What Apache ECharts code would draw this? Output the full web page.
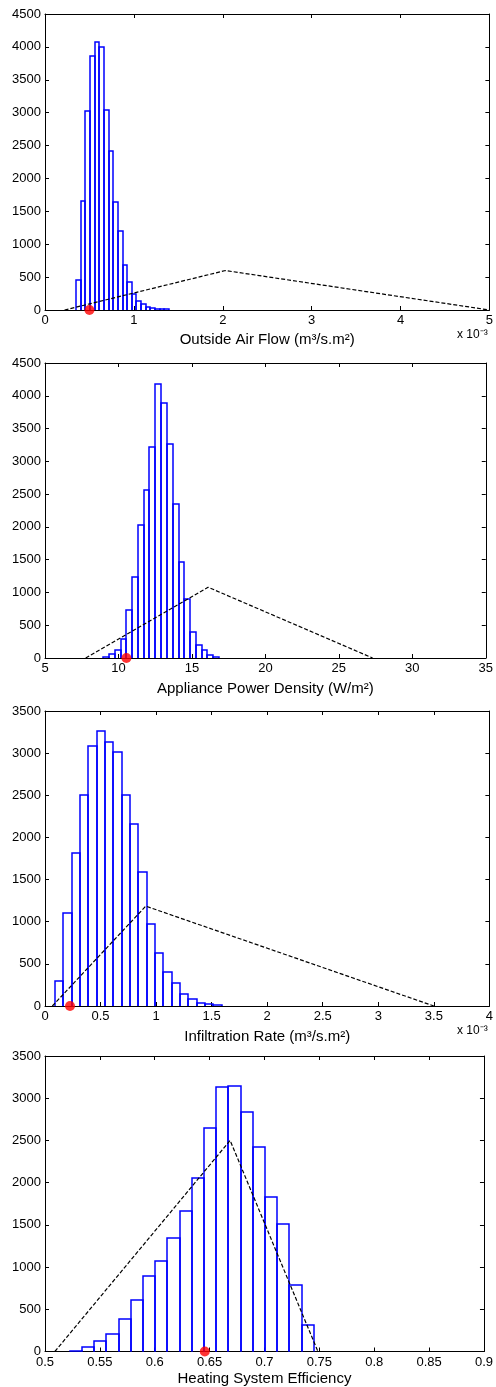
<!DOCTYPE html>
<html><head><meta charset="utf-8">
<script src="https://cdn.jsdelivr.net/npm/echarts@6/dist/echarts.min.js"></script>
<style>html,body{margin:0;padding:0;background:#fff}#c{width:496px;height:1387px}</style>
</head><body><div id="c"></div><script>
// ---- Panel 1: Outside Air Flow (x in units of 1e-3) ----
const oafEdges = [0.348,0.400,0.453,0.505,0.558,0.610,0.662,0.715,0.767,0.820,0.872,0.924,0.977,1.029,1.082,1.134,1.186,1.239,1.291,1.344,1.396];
const oafCounts = [460,1650,3030,3860,4080,4000,3040,2420,1640,1200,690,420,250,140,90,45,30,20,15,10];
const oafTriangle = [[0.22,0],[2.03,600],[5,0]];
const oafPoint = [[0.5,0]];

// ---- Panel 2: Appliance Power Density ----
const apdEdges = [8.95,9.35,9.74,10.14,10.53,10.93,11.32,11.72,12.11,12.51,12.90,13.30,13.69,14.09,14.48,14.88,15.27,15.67,16.06,16.46,16.85];
const apdCounts = [8,58,120,295,733,1230,2025,2570,3220,4175,3895,3262,2342,1460,900,400,198,128,42,18];
const apdTriangle = [[7.77,0],[16.1,1080],[27.3,0]];
const apdPoint = [[10.54,0]];

// ---- Panel 3: Infiltration Rate (x in units of 1e-3) ----
const infEdges = [0.09,0.165,0.24,0.315,0.39,0.465,0.54,0.615,0.69,0.765,0.84,0.915,0.99,1.065,1.14,1.215,1.29,1.365,1.44,1.515,1.59];
const infCounts = [298,1106,1815,2500,3088,3263,3135,3008,2500,2163,1594,968,632,400,268,137,79,33,23,15];
const infTriangle = [[0.066,0],[0.907,1185],[3.5,0]];
const infPoint = [[0.225,0]];

// ---- Panel 4: Heating System Efficiency ----
const hseEdges = [0.5225,0.5336,0.5447,0.5559,0.5670,0.5781,0.5892,0.6003,0.6115,0.6226,0.6337,0.6448,0.6559,0.6671,0.6782,0.6893,0.7004,0.7115,0.7227,0.7338,0.7449];
const hseCounts = [10,59,122,205,382,611,890,1076,1344,1663,2053,2648,3135,3140,2837,2419,1832,1505,788,315];
const hseTriangle = [[0.509,0],[0.6687,2500],[0.7487,0]];
const hsePoint = [[0.6456,0]];

const FONT = '"Liberation Sans", Arial, Helvetica, sans-serif';
const panels = [
  {edges:oafEdges, counts:oafCounts, tri:oafTriangle, pt:oafPoint, xMin:0, xMax:5, xInt:1, yMax:4500, name:'Outside Air Flow (m³/s.m²)', top:14, height:296, gap:30, sci:true},
  {edges:apdEdges, counts:apdCounts, tri:apdTriangle, pt:apdPoint, xMin:5, xMax:35, xInt:5, yMax:4500, name:'Appliance Power Density (W/m²)', top:363, height:295, gap:31, sci:false},
  {edges:infEdges, counts:infCounts, tri:infTriangle, pt:infPoint, xMin:0, xMax:4, xInt:0.5, yMax:3500, name:'Infiltration Rate (m³/s.m²)', top:711, height:295, gap:31, sci:true},
  {edges:hseEdges, counts:hseCounts, tri:hseTriangle, pt:hsePoint, xMin:0.5, xMax:0.9, xInt:0.05, yMax:3500, name:'Heating System Efficiency', top:1056, height:296, gap:27, sci:false}
];

const grid = [], xAxis = [], yAxis = [], series = [], graphic = [];
const fmt = v => String(parseFloat(Number(v).toFixed(4)));
const tick = {show:true, inside:true, length:4, lineStyle:{color:'#000', width:1}};
const line = {show:true, onZero:false, lineStyle:{color:'#000', width:1}};

panels.forEach((p, i) => {
  grid.push({left:45, width:445, top:p.top, height:p.height});
  xAxis.push({type:'value', gridIndex:i, position:'bottom', min:p.xMin, max:p.xMax, interval:p.xInt,
    axisLine:line, axisTick:tick, splitLine:{show:false},
    axisLabel:{color:'#000', fontSize:13, fontFamily:FONT, margin:4, formatter:fmt, showMinLabel:true, showMaxLabel:true},
    name:p.name, nameLocation:'middle', nameGap:p.gap,
    nameTextStyle:{color:'#000', fontSize:15, fontFamily:FONT, verticalAlign:'middle'}});
  xAxis.push({type:'value', gridIndex:i, position:'top', min:p.xMin, max:p.xMax, interval:p.xInt,
    axisLine:line, axisTick:tick, splitLine:{show:false}, axisLabel:{show:false}});
  yAxis.push({type:'value', gridIndex:i, position:'left', min:0, max:p.yMax, interval:500,
    axisLine:line, axisTick:tick, splitLine:{show:false},
    axisLabel:{color:'#000', fontSize:13, fontFamily:FONT, margin:4, formatter:v => String(v)}});
  yAxis.push({type:'value', gridIndex:i, position:'right', min:0, max:p.yMax, interval:500,
    axisLine:line, axisTick:tick, splitLine:{show:false}, axisLabel:{show:false}});

  const bins = p.counts.map((c, k) => [p.edges[k], p.edges[k+1], c]);
  series.push({type:'custom', xAxisIndex:2*i, yAxisIndex:2*i, z:2, data:bins,
    encode:{x:[0,1], y:2}, clip:false,
    renderItem:(params, api) => {
      const a = api.coord([api.value(0), api.value(2)]);
      const b = api.coord([api.value(1), 0]);
      const x0 = Math.round(a[0]), x1 = Math.round(b[0]);
      const y0 = Math.round(a[1]), y1 = b[1];
      return {type:'polyline', shape:{points:[[x0,y1],[x0,y0],[x1,y0],[x1,y1]]},
        style:{fill:null, stroke:'rgb(0,0,255)', lineWidth:1.5}};
    }});
  series.push({type:'line', xAxisIndex:2*i, yAxisIndex:2*i, z:3, data:p.tri, symbol:'none', clip:false,
    lineStyle:{color:'#000', width:1.2, type:[4,2]}});
  series.push({type:'scatter', xAxisIndex:2*i, yAxisIndex:2*i, z:4, data:p.pt, clip:false,
    symbol:'circle', symbolSize:10, itemStyle:{color:'#ff0000'}});
  if (p.sci) {
    graphic.push({type:'text', left:457, top:p.top + p.height + 19,
      style:{text:'x 10⁻³', font:'12px ' + FONT, fill:'#000'}});
  }
});

const chart = echarts.init(document.getElementById('c'), null, {renderer:'canvas'});
chart.setOption({animation:false, backgroundColor:'#fff', grid, xAxis, yAxis, series, graphic});
</script></body></html>
